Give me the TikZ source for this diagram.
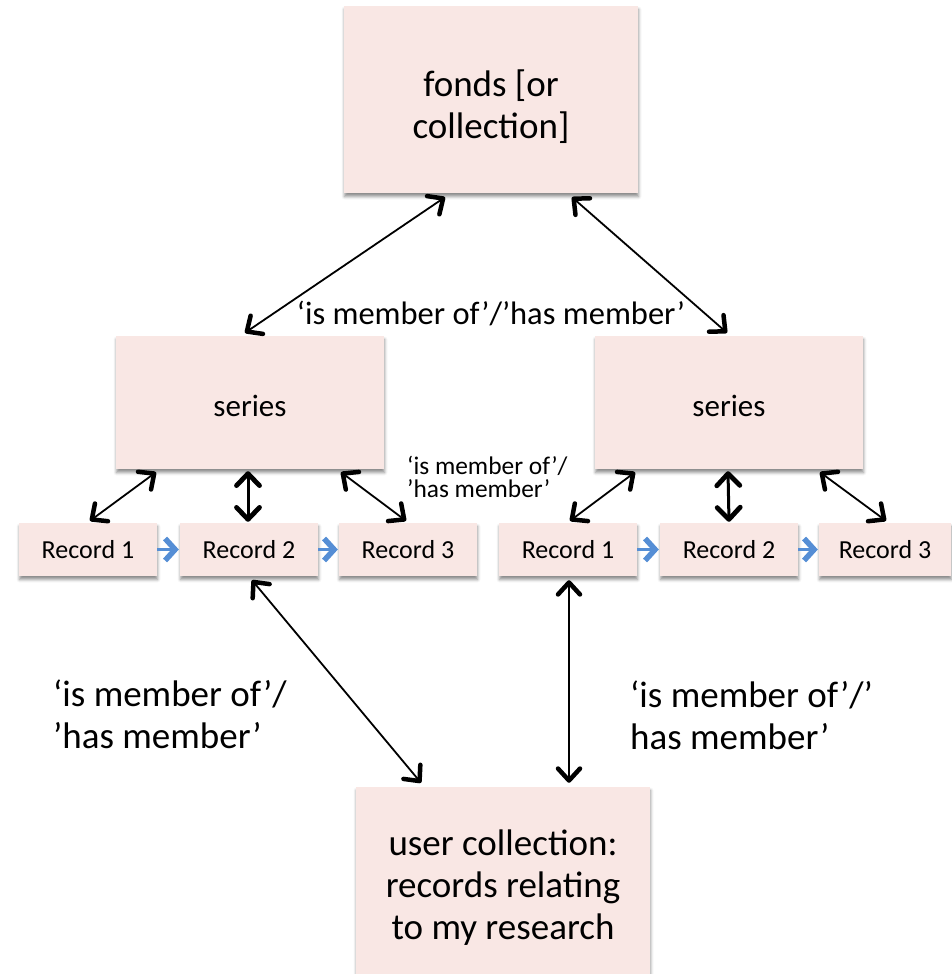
\documentclass[tikz,border=0pt]{standalone}
\usepackage{fontspec}
\setmainfont{Carlito}
\usetikzlibrary{arrows.meta,shadows.blur}
\definecolor{boxpink}{RGB}{249,231,228}
\definecolor{arrowblue}{RGB}{85,142,213}
\begin{document}
\begin{tikzpicture}[x=1pt,y=-1pt,
  box/.style={fill=boxpink, draw=none, inner sep=0pt,
    blur shadow={shadow xshift=0.5pt, shadow yshift=-3.5pt, shadow blur radius=3pt, shadow opacity=45}},
  bigbox/.style={box, minimum width=294pt, minimum height=187pt},
  serbox/.style={box, minimum width=268pt, minimum height=133pt},
  recbox/.style={box, minimum width=138pt, minimum height=53pt, font=\fontsize{26}{30}\selectfont},
  bigtext/.style={inner sep=0pt, align=center, font=\fontsize{37}{42}\selectfont, yshift=-7pt},
  sertext/.style={inner sep=0pt, align=center, font=\fontsize{31}{36}\selectfont, yshift=-3pt},
  tipk/.tip={Straight Barb[length=12pt,width=22pt,line width=4.5pt,round]},
  tipv/.tip={Straight Barb[length=12pt,width=23pt,line width=4.8pt,round]},
  tipb/.tip={Straight Barb[length=10pt,width=22pt,line width=5.5pt]},
  dia/.style={tipk-tipk, line width=1.8pt, black},
  vert/.style={tipv-tipv, line width=3pt, black},
  blue/.style={-tipb, line width=2.5pt, arrowblue, shorten >=1pt},
  lbl/.style={inner sep=0pt, align=left}
]
\useasboundingbox (0,0) rectangle (951,974);

% boxes
\node[bigbox, label={[name=fondst, bigtext]center:{fonds [or\\collection]}}] (fonds) at (491,99.5) {};
\node[serbox, label={[name=lsert, sertext]center:series}] (lser) at (250,402.5) {};
\node[serbox, label={[name=rsert, sertext]center:series}] (rser) at (729,402.5) {};

\node[recbox] (lr1) at (88,549.5) {Record 1};
\node[recbox] (lr2) at (249,549.5) {Record 2};
\node[recbox] (lr3) at (408,549.5) {Record 3};
\node[recbox] (rr1) at (568,549.5) {Record 1};
\node[recbox] (rr2) at (729,549.5) {Record 2};
\node[recbox, minimum width=132pt] (rr3) at (885,549.5) {Record 3};

\node[bigbox, label={[name=usert, bigtext]center:{user collection:\\records relating\\to my research}}] (user) at (503,880.5) {};

% fonds <-> series
\draw[dia] ([xshift=-46pt,yshift=-4pt]fonds.south) -- ([xshift=-5pt,yshift=3pt]lser.north);
\draw[dia] ([xshift=81pt,yshift=-4pt]fonds.south) -- ([xshift=-2pt,yshift=3pt]rser.north);

% series <-> records (left)
\draw[dia] ([xshift=-94pt,yshift=-3pt]lser.south) -- ([xshift=2pt,yshift=2pt]lr1.north);
\draw[vert] ([xshift=-2pt,yshift=-2pt]lser.south) -- ([xshift=-1pt,yshift=1pt]lr2.north);
\draw[dia] ([xshift=91pt,yshift=-3pt]lser.south) -- ([xshift=-2pt,yshift=2pt]lr3.north);

% series <-> records (right)
\draw[dia] ([xshift=-94pt,yshift=-3pt]rser.south) -- ([xshift=2pt,yshift=2pt]rr1.north);
\draw[vert] ([xshift=-1pt,yshift=-2pt]rser.south) -- ([xshift=0pt,yshift=1pt]rr2.north);
\draw[dia] ([xshift=91pt,yshift=-3pt]rser.south) -- ([xshift=1pt,yshift=2pt]rr3.north);

% sequence arrows
\draw[blue] (lr1.east) -- (lr2.west);
\draw[blue] (lr2.east) -- (lr3.west);
\draw[blue] (rr1.east) -- (rr2.west);
\draw[blue] (rr2.east) -- (rr3.west);

% records <-> user collection
\draw[dia] ([xshift=3pt,yshift=-4pt]lr2.south) -- ([xshift=-82pt,yshift=4pt]user.north);
\draw[dia] ([xshift=1pt,yshift=-4pt]rr1.south) -- ([xshift=66pt,yshift=4pt]user.north);

% labels
\node[lbl, font=\fontsize{32.5}{36}\selectfont] (ltop) at (491,313) {‘is member of’/’has member’};
\node[lbl, anchor=west, font=\fontsize{25.4}{23}\selectfont] (lsmall) at (407,477) {‘is member of’/\\’has member’};
\node[lbl, anchor=west, font=\fontsize{37}{42}\selectfont] (lleft) at (53,714) {‘is member of’/\\’has member’};
\node[lbl, anchor=west, font=\fontsize{37}{42}\selectfont] (lright) at (630,715) {‘is member of’/’\\has member’};
\end{tikzpicture}
\end{document}
